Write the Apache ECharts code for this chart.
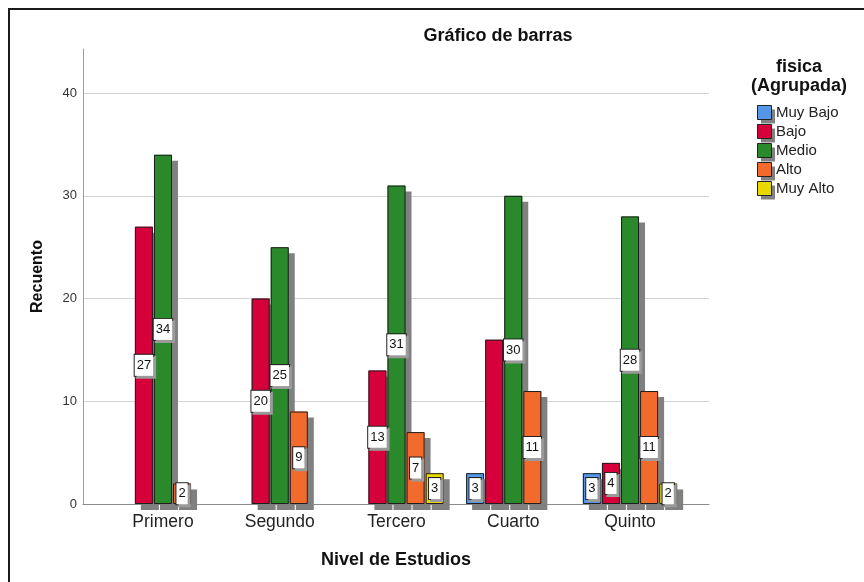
<!DOCTYPE html>
<html>
<head>
<meta charset="utf-8">
<script src="https://cdn.jsdelivr.net/npm/echarts@6/dist/echarts.min.js"></script>
<style>
  html, body { margin: 0; padding: 0; background: #fff; }
  #chart { width: 864px; height: 582px; }
</style>
</head>
<body>
<div id="chart"></div>
<script>
// datos del gráfico
const categories = ['Primero', 'Segundo', 'Tercero', 'Cuarto', 'Quinto'];
const groups = ['Muy Bajo', 'Bajo', 'Medio', 'Alto', 'Muy Alto'];
const muyBajo = [null, null, null, 3, 3];
const bajo = [27, 20, 13, 16, 4];
const medio = [34, 25, 31, 30, 28];
const alto = [2, 9, 7, 11, 11];
const muyAlto = [null, null, 3, null, 2];
const yTicks = [0, 10, 20, 30, 40];
// etiquetas que no aparecen en el original
const hiddenLabels = [['Bajo', 'Cuarto']];

const values = [muyBajo, bajo, medio, alto, muyAlto];
const colors = ['#5596e6', '#d6003a', '#2a8a2b', '#f26a2c', '#e8d800'];
const FONT = '"Liberation Sans", Arial, sans-serif';
const yMax = 44.3;

const chart = echarts.init(document.getElementById('chart'));

// capa 1: relleno + sombra (sin borde, para que la sombra del borde no se vea dentro)
const fillSeries = groups.map((g, i) => ({
  name: g,
  type: 'bar',
  xAxisIndex: 1,
  yAxisIndex: 1,
  barWidth: 18,
  barGap: '6%',
  clip: false,
  data: values[i].map(v => (v == null ? '-' : v)),
  itemStyle: {
    color: colors[i],
    borderWidth: 0,
    shadowColor: '#808080',
    shadowBlur: 0,
    shadowOffsetX: 6,
    shadowOffsetY: 6
  },
  emphasis: { disabled: true },
  silent: true
}));

// capa 2: solo el borde y las etiquetas
const borderSeries = groups.map((g, i) => ({
  name: '_' + g,
  type: 'bar',
  xAxisIndex: 2,
  yAxisIndex: 2,
  barWidth: 18,
  barGap: '6%',
  clip: false,
  data: values[i].map((v, j) => {
    if (v == null) return '-';
    const hide = hiddenLabels.some(h => h[0] === g && h[1] === categories[j]);
    return hide ? { value: v, label: { show: false } } : v;
  }),
  itemStyle: {
    color: 'rgba(0,0,0,0)',
    borderColor: '#1f1f1f',
    borderWidth: 1
  },
  label: {
    show: true,
    position: 'inside',
    color: '#111',
    fontFamily: FONT,
    fontSize: 13,
    lineHeight: 14,
    backgroundColor: '#fff',
    borderColor: '#222',
    borderWidth: 1,
    padding: [4, 2, 3, 2],
    shadowColor: '#9a9a9a',
    shadowBlur: 0,
    shadowOffsetX: 2,
    shadowOffsetY: 2
  },
  emphasis: { disabled: true },
  silent: true
}));

const hiddenY = gi => ({ type: 'value', gridIndex: gi, min: 0, max: yMax, show: false, splitLine: { show: false } });
const hiddenX = gi => ({ type: 'category', gridIndex: gi, data: categories, show: false });

const legendBase = {
  orient: 'vertical',
  left: 757, top: 105,
  padding: 0,
  itemWidth: 14, itemHeight: 14, itemGap: 4,
  icon: 'rect',
  selectedMode: false,
  data: groups
};

const option = {
  animation: false,
  backgroundColor: '#fff',
  textStyle: { fontFamily: FONT },
  title: [
    {
      text: 'Gráfico de barras',
      left: 498, top: 27, padding: 0, textAlign: 'center',
      textStyle: { fontFamily: FONT, fontSize: 18, fontWeight: 'bold', color: '#111' }
    },
    {
      text: 'fisica\n(Agrupada)',
      left: 799, top: 58, padding: 0, textAlign: 'center',
      textStyle: { fontFamily: FONT, fontSize: 18, fontWeight: 'bold', color: '#111', lineHeight: 19 }
    }
  ],
  legend: [
    Object.assign({}, legendBase, {
      textStyle: { fontFamily: FONT, fontSize: 15, lineHeight: 15, color: '#222' },
      itemStyle: { borderWidth: 0, shadowColor: '#808080', shadowBlur: 0, shadowOffsetX: 4, shadowOffsetY: 4 }
    }),
    Object.assign({}, legendBase, {
      textStyle: { fontFamily: FONT, fontSize: 15, lineHeight: 15, color: 'rgba(0,0,0,0)' },
      itemStyle: { color: 'rgba(0,0,0,0)', borderColor: '#222', borderWidth: 1, shadowBlur: 0, shadowOffsetX: 0, shadowOffsetY: 0, shadowColor: 'rgba(0,0,0,0)' }
    })
  ],
  grid: [
    { left: 83, right: 155, top: 49, bottom: 78 },
    { left: 104.6, width: 583.8, top: 49, bottom: 78 },
    { left: 104.6, width: 583.8, top: 49, bottom: 78 }
  ],
  xAxis: [
    {
      type: 'value', gridIndex: 0, min: 0, max: 1,
      name: 'Nivel de Estudios', nameLocation: 'middle', nameGap: 47,
      nameTextStyle: { fontFamily: FONT, fontSize: 18, fontWeight: 'bold', color: '#111' },
      axisLine: { show: true, lineStyle: { color: '#8c8c8c', width: 1 } },
      axisTick: { show: false }, axisLabel: { show: false }, splitLine: { show: false }
    },
    {
      type: 'category', gridIndex: 1, data: categories,
      axisLine: { show: false }, axisTick: { show: false },
      axisLabel: { margin: 9, fontFamily: FONT, fontSize: 17.5, color: '#222' }
    },
    hiddenX(2)
  ],
  yAxis: [
    {
      type: 'value', gridIndex: 0, min: yTicks[0], max: yMax, interval: 10,
      name: 'Recuento', nameLocation: 'middle', nameGap: 37,
      nameTextStyle: { fontFamily: FONT, fontSize: 16, fontWeight: 'bold', color: '#111' },
      axisLine: { show: true, lineStyle: { color: '#9a9a9a', width: 1 } },
      axisTick: { show: false },
      axisLabel: {
        margin: 6, fontFamily: FONT, fontSize: 13, color: '#333', showMaxLabel: false,
        formatter: v => (yTicks.indexOf(v) >= 0 ? String(v) : '')
      },
      splitLine: { show: true, showMinLine: false, showMaxLine: false, lineStyle: { color: '#d4d4d4', width: 1 } }
    },
    hiddenY(1),
    hiddenY(2)
  ],
  graphic: [
    { type: 'rect', shape: { x: 8, y: 8, width: 856, height: 2 }, style: { fill: '#1a1a1a' }, silent: true },
    { type: 'rect', shape: { x: 8, y: 8, width: 2, height: 574 }, style: { fill: '#1a1a1a' }, silent: true }
  ],
  series: fillSeries.concat(borderSeries)
};

chart.setOption(option);
</script>
</body>
</html>
